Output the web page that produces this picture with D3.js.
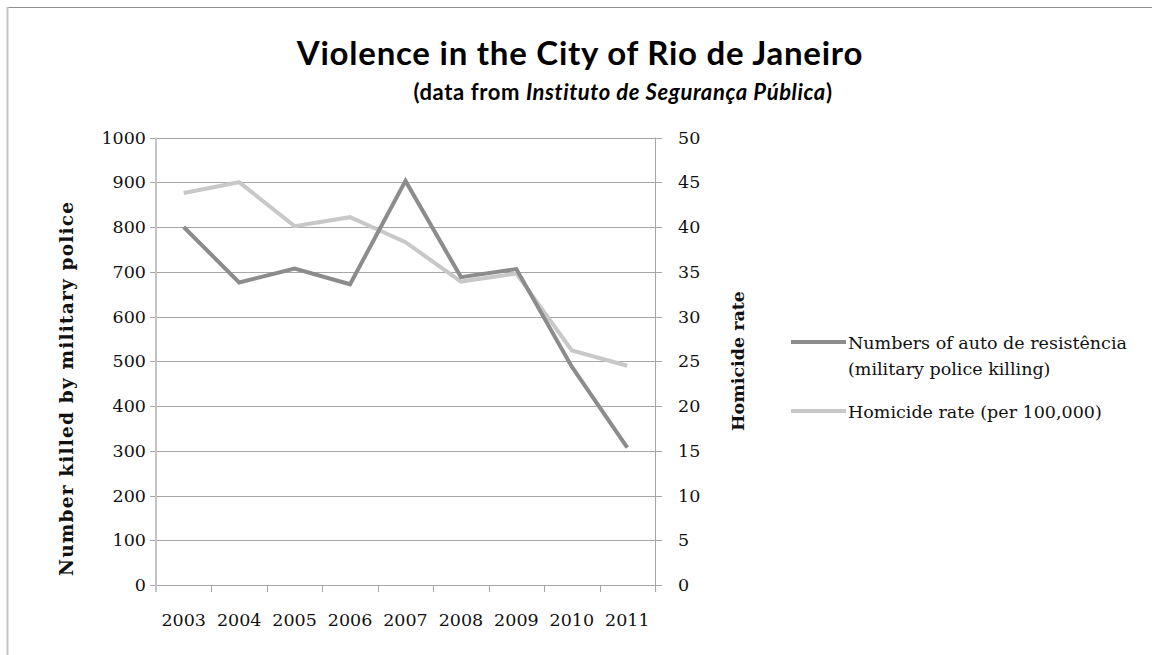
<!DOCTYPE html>
<html>
<head>
<meta charset="utf-8">
<script src="https://cdn.jsdelivr.net/npm/d3@7"></script>
<style>
  html, body { margin: 0; padding: 0; background: #fff; }
  svg { display: block; }
</style>
</head>
<body>
<svg id="chart" width="1152" height="655"></svg>
<script>
// Years on the category axis
const years = ["2003", "2004", "2005", "2006", "2007", "2008", "2009", "2010", "2011"];
// Autos de resistência (killings by military police), left axis
const policeKillings = [800, 676, 707, 672, 903, 688, 706, 488, 307];
// Homicide rate per 100,000, right axis
const homicideRate = [43.8, 45.0, 40.1, 41.1, 38.3, 33.9, 34.8, 26.2, 24.5];
// Tick values
const leftTicks = [0, 100, 200, 300, 400, 500, 600, 700, 800, 900, 1000];
const rightTicks = [0, 5, 10, 15, 20, 25, 30, 35, 40, 45, 50];

const svg = d3.select("#chart");
const serif = "'DejaVu Serif', 'Liberation Serif', serif";
const sans = "Lato, 'Open Sans', sans-serif";
const labelSize = 17.5;

// Outer frame
svg.append("line").attr("x1", 7).attr("x2", 1152).attr("y1", 7.5).attr("y2", 7.5)
  .attr("stroke", "#8f8f8f").attr("stroke-width", 1);
svg.append("line").attr("x1", 7.5).attr("x2", 7.5).attr("y1", 7).attr("y2", 655)
  .attr("stroke", "#c4c4c4").attr("stroke-width", 2);

const plot = { left: 156, right: 655, top: 137.5, bottom: 585 };

const x = d3.scaleBand().domain(years).range([plot.left, plot.right]);
const yL = d3.scaleLinear().domain([0, 1000]).range([plot.bottom, plot.top]);
const yR = d3.scaleLinear().domain([0, 50]).range([plot.bottom, plot.top]);

// Horizontal gridlines
svg.append("g").selectAll("line").data(leftTicks.filter(d => d > 0)).join("line")
  .attr("x1", plot.left - 6).attr("x2", plot.right + 7)
  .attr("y1", d => Math.round(yL(d)) + 0.5).attr("y2", d => Math.round(yL(d)) + 0.5)
  .attr("stroke", "#a6a6a6").attr("stroke-width", 1);

// Bottom axis with tick marks between categories
svg.append("line").attr("x1", plot.left - 6).attr("x2", plot.right + 7)
  .attr("y1", plot.bottom + 0.5).attr("y2", plot.bottom + 0.5)
  .attr("stroke", "#a6a6a6");
const boundaries = years.map(y => x(y)).concat([plot.right]);
svg.append("g").selectAll("line").data(boundaries).join("line")
  .attr("x1", d => Math.round(d) + 0.5).attr("x2", d => Math.round(d) + 0.5)
  .attr("y1", plot.bottom).attr("y2", plot.bottom + 7)
  .attr("stroke", "#a6a6a6");

// Left and right axis lines
svg.append("line").attr("x1", plot.left).attr("x2", plot.left)
  .attr("y1", plot.top).attr("y2", plot.bottom + 7)
  .attr("stroke", "#c4c4c4").attr("stroke-width", 2);
svg.append("line").attr("x1", plot.right + 0.5).attr("x2", plot.right + 0.5)
  .attr("y1", plot.top).attr("y2", plot.bottom + 7)
  .attr("stroke", "#a6a6a6").attr("stroke-width", 1);

// Tick labels
svg.append("g").selectAll("text").data(leftTicks).join("text")
  .attr("x", 146).attr("y", d => yL(d)).attr("dy", "0.35em")
  .attr("text-anchor", "end").attr("font-family", serif).attr("font-size", labelSize)
  .attr("fill", "#111").text(d => d);
svg.append("g").selectAll("text").data(rightTicks).join("text")
  .attr("x", 678).attr("y", d => yR(d)).attr("dy", "0.35em")
  .attr("text-anchor", "start").attr("font-family", serif).attr("font-size", labelSize)
  .attr("fill", "#111").text(d => d);
svg.append("g").selectAll("text").data(years).join("text")
  .attr("x", d => x(d) + x.bandwidth() / 2).attr("y", 626)
  .attr("text-anchor", "middle").attr("font-family", serif).attr("font-size", labelSize)
  .attr("fill", "#111").text(d => d);

// Axis titles
svg.append("text")
  .attr("transform", "translate(73,389) rotate(-90)")
  .attr("text-anchor", "middle").attr("font-family", serif).attr("font-size", 18.5)
  .attr("font-weight", "bold").attr("fill", "#111")
  .attr("textLength", 374).attr("lengthAdjust", "spacing")
  .text("Number killed by military police");
svg.append("text")
  .attr("transform", "translate(744,361) rotate(-90)")
  .attr("text-anchor", "middle").attr("font-family", serif).attr("font-size", 17.5)
  .attr("font-weight", "bold").attr("fill", "#111")
  .text("Homicide rate");

// Series lines
const cx = d => x(d) + x.bandwidth() / 2;
const darkLine = d3.line().x((d, i) => cx(years[i])).y(d => yL(d));
const lightLine = d3.line().x((d, i) => cx(years[i])).y(d => yR(d));

svg.append("path").datum(homicideRate).attr("d", lightLine)
  .attr("fill", "none").attr("stroke", "#c8c8c8").attr("stroke-width", 4)
  .attr("stroke-linejoin", "miter");
svg.append("path").datum(policeKillings).attr("d", darkLine)
  .attr("fill", "none").attr("stroke", "#8c8c8c").attr("stroke-width", 4)
  .attr("stroke-linejoin", "miter");

// Legend
const legend = svg.append("g");
legend.append("line").attr("x1", 791).attr("x2", 846).attr("y1", 342).attr("y2", 342)
  .attr("stroke", "#8c8c8c").attr("stroke-width", 4);
legend.append("text").attr("x", 848).attr("y", 349)
  .attr("font-family", serif).attr("font-size", labelSize).attr("fill", "#111")
  .text("Numbers of auto de resistência");
legend.append("text").attr("x", 848).attr("y", 375)
  .attr("font-family", serif).attr("font-size", labelSize).attr("fill", "#111")
  .text("(military police killing)");
legend.append("line").attr("x1", 791).attr("x2", 846).attr("y1", 411).attr("y2", 411)
  .attr("stroke", "#c8c8c8").attr("stroke-width", 4);
legend.append("text").attr("x", 848).attr("y", 418)
  .attr("font-family", serif).attr("font-size", labelSize).attr("fill", "#111")
  .text("Homicide rate (per 100,000)");

// Titles
svg.append("text").attr("x", 580).attr("y", 65)
  .attr("text-anchor", "middle").attr("font-family", sans).attr("font-weight", "bold")
  .attr("font-size", 33).attr("letter-spacing", 0.75).attr("fill", "#000")
  .text("Violence in the City of Rio de Janeiro");
const sub = svg.append("text").attr("x", 623).attr("y", 100)
  .attr("text-anchor", "middle").attr("font-family", sans).attr("font-weight", "bold")
  .attr("font-size", 22).attr("letter-spacing", 0.6).attr("fill", "#000");
sub.append("tspan").text("(data from ");
sub.append("tspan").attr("font-style", "italic").text("Instituto de Segurança Pública");
sub.append("tspan").text(")");
</script>
</body>
</html>
